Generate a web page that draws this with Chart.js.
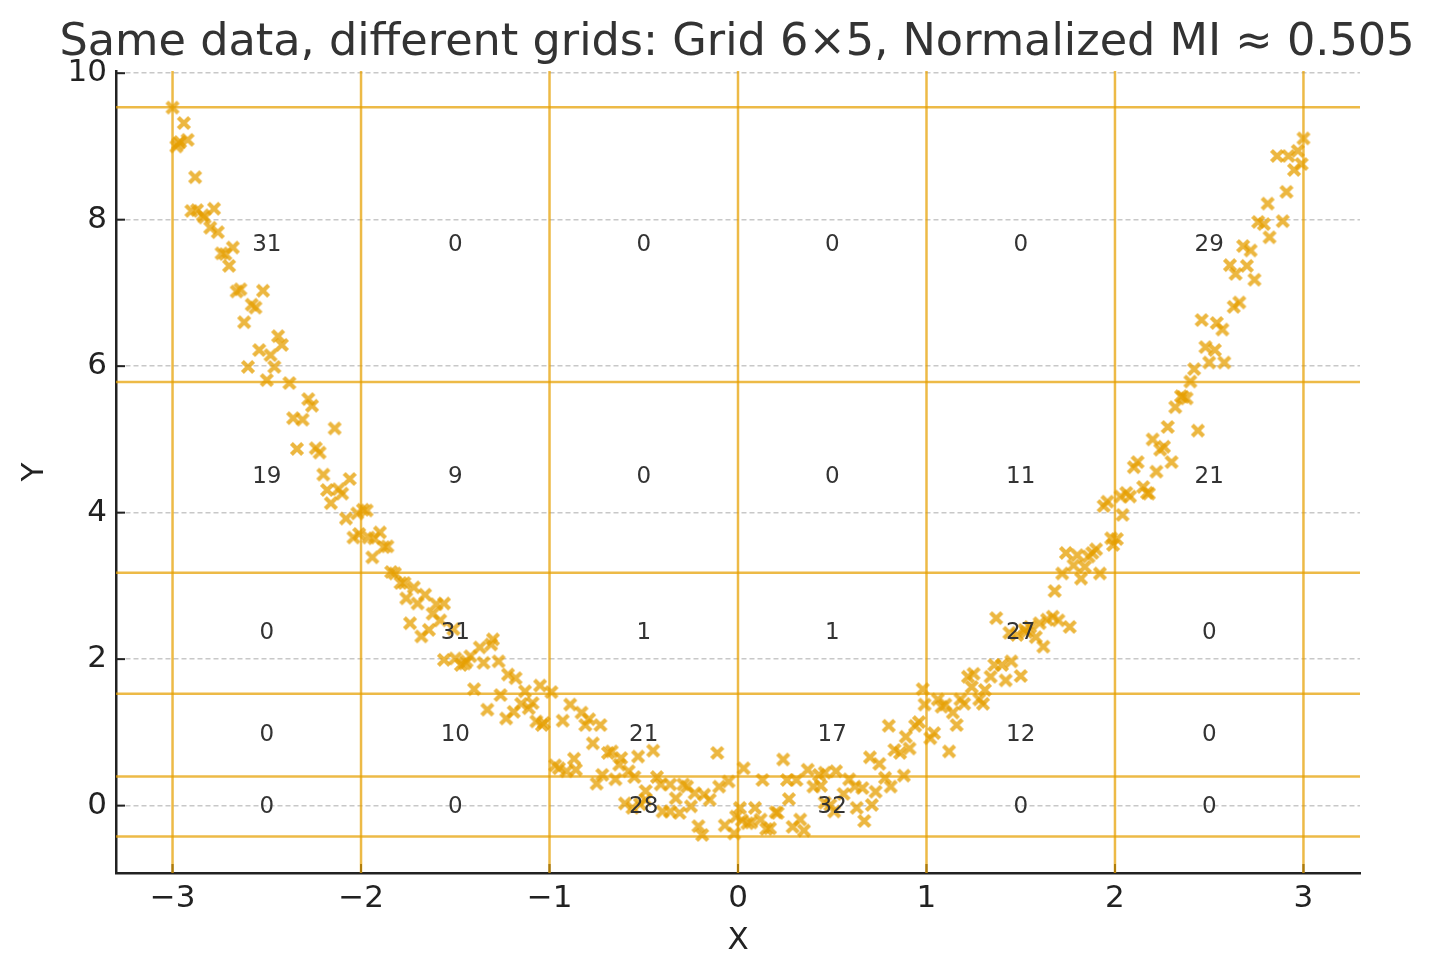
<!DOCTYPE html>
<html><head><meta charset="utf-8">
<script src="https://cdn.jsdelivr.net/npm/chart.js@4.4.0/dist/chart.umd.min.js"></script>
<style>html,body{margin:0;padding:0;background:#fff;}#c{display:block;}</style>
</head><body>
<canvas id="c" width="1434" height="980"></canvas>
<script>
const titleText = 'Same data, different grids: Grid 6\u00d75, Normalized MI \u2248 0.505';
const xLabel = 'X';
const yLabel = 'Y';

// scatter points (x, y)
const xVals = [
 -3.00,-2.94,-2.97,-2.98,-2.92,-2.96,-2.88,-2.90,-2.87,-2.84,-2.83,-2.78,-2.80,-2.76,-2.68,-2.74,-2.72,-2.70,-2.66,-2.64,-2.52,-2.58,-2.56,-2.62,-2.44,-2.42,-2.54,-2.48,-2.60,-2.46,-2.50,
 -2.38,-2.28,-2.26,-2.36,-2.31,-2.14,-2.34,-2.24,-2.22,-2.20,-2.06,-2.18,-2.12,-2.10,-2.16,-2.08,-2.02,-2.04,-2.01,
 -1.97,-1.99,-1.96,-1.93,-1.90,-1.88,-1.86,-1.94,-1.84,
 -1.82,-1.79,-1.77,-1.72,-1.66,-1.76,-1.70,-1.60,-1.56,-1.62,-1.58,-1.74,-1.51,-1.64,-1.68,-1.56,-1.50,-1.47,-1.45,-1.42,-1.37,-1.31,-1.35,-1.27,-1.40,-1.22,-1.18,-1.13,-1.05,-1.30,-1.44,
 -1.26,-1.33,-1.23,-1.19,-1.15,-1.11,-1.09,-1.07,-1.03,-1.04,
 -0.99,
 -0.97,-0.95,-0.91,-0.87,-0.86,-0.93,-0.89,-0.83,-0.79,-0.81,-0.73,-0.77,-0.69,-0.67,-0.62,-0.63,-0.53,-0.45,-0.58,-0.11,-0.72,
 -0.55,-0.75,-0.65,-0.43,-0.41,-0.36,-0.49,-0.49,-0.56,-0.33,-0.29,-0.27,-0.23,-0.18,-0.15,-0.10,-0.05,-0.25,-0.40,-0.36,-0.31,-0.21,-0.19,-0.07,-0.02,-0.01,-0.52,-0.60,
 0.98,
 0.03,0.24,0.37,0.43,0.46,0.52,0.70,0.75,0.80,0.83,0.86,0.88,0.89,0.91,0.94,0.96,0.99,
 0.01,0.05,0.07,0.09,0.12,0.15,0.17,0.13,0.20,0.21,0.27,0.29,0.33,0.35,0.26,0.31,0.40,0.44,0.49,0.51,0.56,0.59,0.62,0.66,0.63,0.67,0.71,0.73,0.78,0.81,0.02,0.46,
 1.74,1.80,1.78,1.84,1.86,1.90,1.98,1.94,1.96,1.99,1.88,
 1.22,1.25,1.24,1.34,1.42,1.50,1.36,1.40,1.45,1.31,1.48,1.52,1.55,1.58,1.62,1.60,1.64,1.67,1.70,1.76,1.68,1.72,1.82,1.92,1.37,1.44,1.53,
 1.02,1.04,1.06,1.08,1.10,1.12,1.14,1.16,1.18,1.20,1.28,1.30,
 2.01,2.03,2.04,2.06,2.08,2.10,2.12,2.15,2.17,2.18,2.20,2.22,2.24,2.26,2.28,2.30,2.32,2.35,2.38,2.44,2.36,
 2.40,2.42,2.48,2.50,2.53,2.46,2.54,2.57,2.58,2.63,2.66,2.61,2.64,2.70,2.74,2.68,2.72,2.76,2.79,2.82,2.89,2.81,2.91,2.86,2.92,2.97,2.95,2.99,3.00
];
const yVals = [
 9.53,9.32,9.04,9.00,9.09,9.06,8.58,8.12,8.13,8.06,8.03,8.15,7.89,7.83,7.62,7.54,7.53,7.37,7.02,7.05,7.03,6.84,6.80,6.60,6.41,6.29,6.22,6.15,5.99,5.99,5.81,
 5.77,5.55,5.46,5.29,5.27,5.15,4.87,4.88,4.82,4.52,4.46,4.31,4.32,4.26,4.13,3.92,3.99,3.66,3.71,
 4.03,4.04,3.66,3.65,3.73,3.53,3.54,3.39,3.19,
 3.17,3.04,3.04,2.98,2.88,2.83,2.76,2.75,2.76,2.62,2.53,2.49,2.41,2.40,2.31,1.99,2.01,1.92,1.94,2.04,2.16,2.20,1.95,1.97,1.59,1.79,1.74,1.56,1.64,2.27,1.97,
 1.51,1.31,1.19,1.28,1.39,1.33,1.40,1.15,1.13,1.10,
 1.55,
 0.55,0.51,0.47,0.64,0.49,1.16,1.38,1.27,1.18,1.10,1.10,0.85,0.72,0.74,0.65,0.56,0.67,0.75,0.47,0.72,0.42,
 0.39,0.30,0.36,0.39,0.29,0.29,0.20,0.08,-0.03,0.10,0.29,0.26,0.17,0.15,0.08,0.26,0.33,-0.01,-0.08,-0.08,-0.10,-0.28,-0.40,-0.27,-0.38,-0.15,0.02,0.03,
 1.59,
 0.51,0.63,0.49,0.42,0.45,0.47,0.66,0.57,1.09,0.76,0.72,0.41,0.94,0.78,1.09,1.14,1.38,
 -0.03,-0.24,-0.23,-0.03,-0.19,-0.32,-0.31,0.35,-0.09,-0.10,0.09,-0.29,-0.19,-0.34,0.35,0.35,0.26,0.27,0.01,-0.08,0.16,0.36,0.26,0.24,-0.03,-0.21,0.01,0.19,0.38,0.26,-0.20,0.04,
 3.45,3.42,3.28,3.26,3.40,3.50,3.65,4.09,4.15,3.56,3.45,
 1.76,1.80,1.62,1.76,1.71,1.77,1.92,1.92,1.97,1.58,2.33,2.40,2.44,2.30,2.17,2.49,2.54,2.58,2.53,2.44,2.93,3.17,3.10,3.17,2.56,2.36,2.37,
 0.92,0.99,1.45,1.35,1.38,0.74,1.27,1.10,1.45,1.39,1.45,1.39,
 3.64,4.22,3.97,4.27,4.22,4.62,4.69,4.35,4.27,4.26,5.00,4.56,4.86,4.90,5.17,4.69,5.44,5.59,5.56,5.12,5.58,
 5.79,5.96,6.26,6.05,6.22,6.63,6.59,6.50,6.05,6.81,6.87,7.38,7.26,7.37,7.18,7.64,7.58,7.97,7.94,7.76,7.98,8.22,8.38,8.87,8.87,8.94,8.68,8.76,9.11
];

// grid (bin) edges and per-cell counts
const xEdges = [-3, -2, -1, 0, 1, 2, 3];
const yEdges = [-0.423, 0.396, 1.528, 3.179, 5.784, 9.536];
// rows from bottom to top, columns left to right
const countsRow1 = [0, 0, 28, 32, 0, 0];
const countsRow2 = [0, 10, 21, 17, 12, 0];
const countsRow3 = [0, 31, 1, 1, 27, 0];
const countsRow4 = [19, 9, 0, 0, 11, 21];
const countsRow5 = [31, 0, 0, 0, 0, 29];
const countRows = [countsRow1, countsRow2, countsRow3, countsRow4, countsRow5];

const xTicks = [-3, -2, -1, 0, 1, 2, 3];
const yTicks = [0, 2, 4, 6, 8, 10];
const xLimits = [-3.3, 3.3];
const yLimits = [-0.92, 10.03];

const FONT = "'DejaVu Sans', 'Liberation Sans', sans-serif";
const MARK = 'rgba(230,159,0,0.75)';
const LINE = 'rgba(230,159,0,0.72)';

function makeMarker() {
  const s = 18, c = document.createElement('canvas');
  c.width = s; c.height = s;
  const g = c.getContext('2d');
  const h = 5.6, m = s / 2;
  g.strokeStyle = MARK;
  g.lineWidth = 4.2;
  g.lineCap = 'butt';
  g.beginPath();
  g.moveTo(m - h, m - h); g.lineTo(m + h, m + h);
  g.moveTo(m + h, m - h); g.lineTo(m - h, m + h);
  g.stroke();
  return c;
}
const marker = makeMarker();

const points = xVals.map((v, i) => ({ x: v, y: yVals[i] }));
const fmt = v => (v < 0 ? '\u2212' + Math.abs(v) : String(v));

const overlay = {
  id: 'overlay',
  beforeDatasetsDraw(chart) {
    const { ctx, chartArea: a, scales: { x, y } } = chart;
    ctx.save();
    // inward ticks
    ctx.strokeStyle = '#222';
    ctx.lineWidth = 2;
    xTicks.forEach(v => {
      const p = x.getPixelForValue(v);
      ctx.beginPath(); ctx.moveTo(p, a.bottom); ctx.lineTo(p, a.bottom - 9); ctx.stroke();
    });
    yTicks.forEach(v => {
      const p = y.getPixelForValue(v);
      ctx.beginPath(); ctx.moveTo(a.left, p); ctx.lineTo(a.left + 9, p); ctx.stroke();
    });
    // bin edges
    ctx.strokeStyle = LINE;
    ctx.lineWidth = 2.5;
    xEdges.forEach(v => {
      const p = x.getPixelForValue(v);
      ctx.beginPath(); ctx.moveTo(p, a.top); ctx.lineTo(p, a.bottom); ctx.stroke();
    });
    yEdges.forEach(v => {
      const p = y.getPixelForValue(v);
      ctx.beginPath(); ctx.moveTo(a.left, p); ctx.lineTo(a.right, p); ctx.stroke();
    });
    ctx.restore();
  },
  afterDatasetsDraw(chart) {
    const { ctx, chartArea: a, scales: { x, y } } = chart;
    ctx.save();
    // counts
    ctx.fillStyle = '#333';
    ctx.font = '23px ' + FONT;
    ctx.textAlign = 'center';
    ctx.textBaseline = 'middle';
    countRows.forEach((row, r) => {
      const cy = y.getPixelForValue((yEdges[r] + yEdges[r + 1]) / 2);
      row.forEach((n, c) => {
        const cx = x.getPixelForValue((xEdges[c] + xEdges[c + 1]) / 2);
        ctx.fillText(String(n), cx, cy);
      });
    });
    // title
    ctx.fillStyle = '#333';
    ctx.font = '44.6px ' + FONT;
    ctx.textBaseline = 'alphabetic';
    ctx.fillText(titleText, 737, 55);
    // axis titles
    ctx.fillStyle = '#222';
    ctx.font = '31px ' + FONT;
    ctx.textBaseline = 'middle';
    ctx.fillText(xLabel, (a.left + a.right) / 2, 941);
    ctx.translate(35, (a.top + a.bottom) / 2);
    ctx.rotate(-Math.PI / 2);
    ctx.fillText(yLabel, 0, 0);
    ctx.restore();
  }
};

new Chart(document.getElementById('c'), {
  type: 'scatter',
  data: {
    datasets: [{
      data: points,
      pointStyle: marker,
      pointRadius: 6,
      pointHoverRadius: 6
    }]
  },
  options: {
    responsive: false,
    animation: false,
    devicePixelRatio: 1,
    layout: { padding: { top: 71, right: 74, bottom: 0, left: 0 } },
    plugins: { legend: { display: false }, tooltip: { enabled: false }, title: { display: false } },
    scales: {
      x: {
        type: 'linear',
        min: xLimits[0], max: xLimits[1],
        afterFit: s => { s.height = 107; },
        afterBuildTicks: s => { s.ticks = xTicks.map(v => ({ value: v })); },
        grid: { display: false, drawTicks: false },
        border: { display: true, color: '#222', width: 2.5 },
        ticks: { font: { family: FONT, size: 31 }, color: '#222', padding: 7, maxRotation: 0, callback: v => fmt(v) }
      },
      y: {
        type: 'linear',
        min: yLimits[0], max: yLimits[1],
        afterFit: s => { s.width = 116; },
        afterBuildTicks: s => { s.ticks = yTicks.map(v => ({ value: v })); },
        grid: { display: true, drawTicks: false, color: 'rgba(176,176,176,0.7)', lineWidth: 1.5 },
        border: { display: true, color: '#222', width: 2.5, dash: [5, 3] },
        ticks: { font: { family: FONT, size: 31 }, color: '#222', padding: 9, callback: v => fmt(v) }
      }
    }
  },
  plugins: [overlay]
});
</script>
</body></html>
